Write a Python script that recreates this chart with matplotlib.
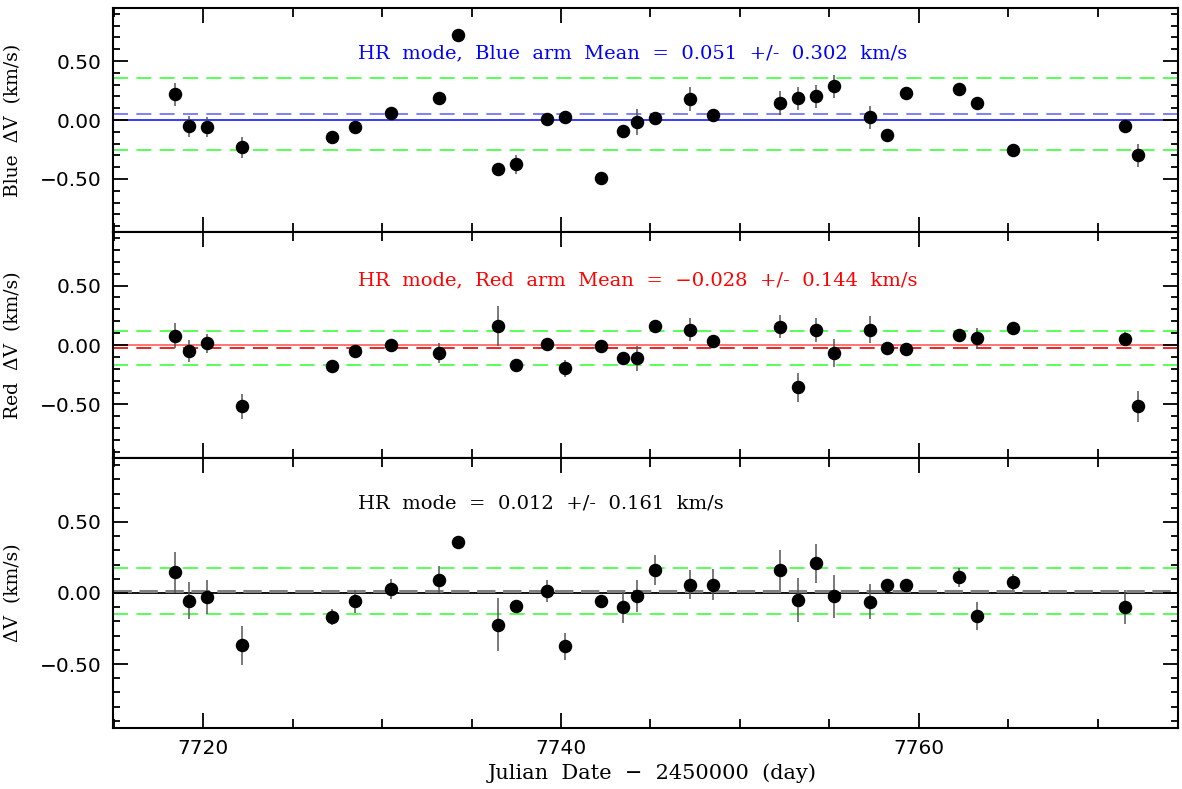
import matplotlib
matplotlib.use("Agg")
import matplotlib.pyplot as plt
from matplotlib.ticker import MultipleLocator, FixedLocator

# ---------------- data ----------------
t_blue = [7718.44, 7719.19, 7720.18, 7722.19, 7727.21, 7728.46, 7730.48, 7733.20, 7734.22,
          7736.46, 7737.49, 7739.24, 7740.23, 7742.23, 7743.49, 7744.24, 7745.25, 7747.24,
          7748.49, 7752.26, 7753.27, 7754.26, 7755.27, 7757.26, 7758.25, 7759.27, 7762.26,
          7763.27, 7765.28, 7771.53, 7772.29]
v_blue = [0.217, -0.053, -0.059, -0.233, -0.146, -0.062, 0.062, 0.19, 0.72, -0.413, -0.377,
          0.008, 0.025, -0.492, -0.093, -0.017, 0.017, 0.177, 0.045, 0.143, 0.183, 0.20,
          0.287, 0.022, -0.129, 0.228, 0.267, 0.146, -0.256, -0.048, -0.30]
e_blue = [0.095, 0.09, 0.085, 0.09, 0.03, 0.056, 0.03, 0.03, 0.03, 0.03, 0.077, 0.03, 0.03,
          0.03, 0.04, 0.11, 0.04, 0.10, 0.04, 0.10, 0.095, 0.097, 0.097, 0.098, 0.04, 0.04,
          0.04, 0.04, 0.04, 0.04, 0.10]

t_red = [7718.44, 7719.19, 7720.18, 7722.19, 7727.21, 7728.46, 7730.48, 7733.20, 7736.46,
         7737.49, 7739.24, 7740.23, 7742.23, 7743.49, 7744.24, 7745.25, 7747.24, 7748.49,
         7752.26, 7753.27, 7754.26, 7755.27, 7757.26, 7758.25, 7759.27, 7762.26, 7763.27,
         7765.28, 7771.53, 7772.29]
v_red = [0.079, -0.051, 0.014, -0.515, -0.177, -0.048, 0.003, -0.07, 0.158, -0.172, 0.011,
         -0.197, -0.008, -0.113, -0.113, 0.163, 0.129, 0.031, 0.155, -0.357, 0.127, -0.07,
         0.129, -0.025, -0.034, 0.084, 0.056, 0.141, 0.048, -0.517]
e_red = [0.107, 0.09, 0.08, 0.104, 0.03, 0.05, 0.03, 0.084, 0.167, 0.03, 0.03, 0.073, 0.03,
         0.04, 0.108, 0.03, 0.097, 0.04, 0.10, 0.12, 0.10, 0.117, 0.113, 0.04, 0.04, 0.04,
         0.089, 0.04, 0.06, 0.128]

t_all = [7718.44, 7719.19, 7720.18, 7722.19, 7727.21, 7728.46, 7730.48, 7733.20, 7734.22,
         7736.46, 7737.49, 7739.24, 7740.23, 7742.23, 7743.49, 7744.24, 7745.25, 7747.24,
         7748.49, 7752.26, 7753.27, 7754.26, 7755.27, 7757.26, 7758.25, 7759.27, 7762.26,
         7763.27, 7765.28, 7771.53]
v_all = [0.145, -0.056, -0.030, -0.369, -0.168, -0.058, 0.028, 0.094, 0.358, -0.222, -0.093,
         0.014, -0.374, -0.058, -0.10, -0.023, 0.161, 0.059, 0.059, 0.164, -0.049, 0.208,
         -0.023, -0.06, 0.059, 0.054, 0.11, -0.161, 0.075, -0.098]
e_all = [0.146, 0.13, 0.12, 0.137, 0.058, 0.082, 0.068, 0.094, 0.03, 0.186, 0.04, 0.074,
         0.096, 0.04, 0.11, 0.113, 0.108, 0.104, 0.11, 0.14, 0.155, 0.137, 0.152, 0.123,
         0.04, 0.04, 0.068, 0.10, 0.056, 0.122]

mean_blue, sig_blue = 0.051, 0.302
mean_red, sig_red = -0.028, 0.144
mean_all, sig_all = 0.012, 0.161

ylabels = ["Blue  \u0394V  (km/s)", "Red  \u0394V  (km/s)", "\u0394V  (km/s)"]
titles = ["HR  mode,  Blue  arm  Mean  =  0.051  +/-  0.302  km/s",
          "HR  mode,  Red  arm  Mean  =  \u22120.028  +/-  0.144  km/s",
          "HR  mode  =  0.012  +/-  0.161  km/s"]
xlabel = "Julian  Date  \u2212  2450000  (day)"
x_ticks = [7720, 7740, 7760]
y_ticks = [-0.5, 0.0, 0.5]
y_ticklabels = ["\u22120.50", "0.00", "0.50"]

# ---------------- figure ----------------
W, H = 1182, 789
fig = plt.figure(figsize=(W / 100, H / 100), dpi=100)

def box(top_px, bot_px):
    return [113 / W, 1 - bot_px / H, (1178 - 113) / W, (bot_px - top_px) / H]

ax1 = fig.add_axes(box(8, 232))
ax2 = fig.add_axes(box(232, 458))
ax3 = fig.add_axes(box(458, 728))

green = "#3cff3c"
panels = [
    (ax1, t_blue, v_blue, e_blue, mean_blue, sig_blue, "#2a2aff", "#6a6aff"),
    (ax2, t_red, v_red, e_red, mean_red, sig_red, "#ff6a6a", "#e00000"),
    (ax3, t_all, v_all, e_all, mean_all, sig_all, "#000000", "#808080"),
]
text_colors = ["#0000ff", "#ff0000", "#000000"]
text_y = [53, 280, 504]

for i, (ax, t, v, e, m, s, c0, cm) in enumerate(panels):
    ax.set_xlim(7714.95, 7774.5)
    ax.set_ylim(-0.95, 0.95)
    ax.axhline(0.0, color=c0, lw=1.3, zorder=1)
    if i == 2:
        ax.axhline(m, color=cm, lw=2.2, ls=(0, (6, 2.5)), zorder=1)
    else:
        ax.axhline(m, color=cm, lw=1.2, ls=(0, (9, 5)), zorder=1)
    ax.axhline(m + s, color=green, lw=1.2, ls=(0, (9, 5)), zorder=1)
    ax.axhline(m - s, color=green, lw=1.2, ls=(0, (9, 5)), zorder=1)
    ax.errorbar(t, v, yerr=e, fmt="none", ecolor="#555555", elinewidth=1.1, capsize=0, zorder=2)
    ax.plot(t, v, "o", color="black", ms=8.7, zorder=3)

    ax.xaxis.set_major_locator(FixedLocator(x_ticks))
    ax.xaxis.set_minor_locator(MultipleLocator(5))
    ax.yaxis.set_major_locator(FixedLocator(y_ticks))
    ax.yaxis.set_minor_locator(MultipleLocator(0.1))
    ax.tick_params(which="both", direction="in", top=True, right=True, width=1.3)
    ax.tick_params(which="major", length=10.5)
    ax.tick_params(axis="x", which="minor", length=6.5)
    ax.tick_params(axis="y", which="minor", length=5)
    ax.tick_params(axis="y", which="major", labelsize=14.5, pad=8)
    ax.set_yticklabels(y_ticklabels)
    for sp in ax.spines.values():
        sp.set_linewidth(1.5)
    if i < 2:
        ax.tick_params(axis="x", labelbottom=False)
    else:
        ax.tick_params(axis="x", which="major", labelsize=14.5, pad=8)

    ax.set_ylabel(ylabels[i], family="DejaVu Serif", fontsize=13.5)
    ax.yaxis.set_label_coords(-(113 - 22) / (1178 - 113), 0.5)

    fig.text(358 / W, 1 - text_y[i] / H, titles[i], color=text_colors[i],
             family="DejaVu Serif", fontsize=14, ha="left", va="center")

fig.text(652 / W, 1 - 773 / H, xlabel, family="DejaVu Serif", fontsize=15,
         ha="center", va="center")

fig.savefig("out.png", dpi=100)
